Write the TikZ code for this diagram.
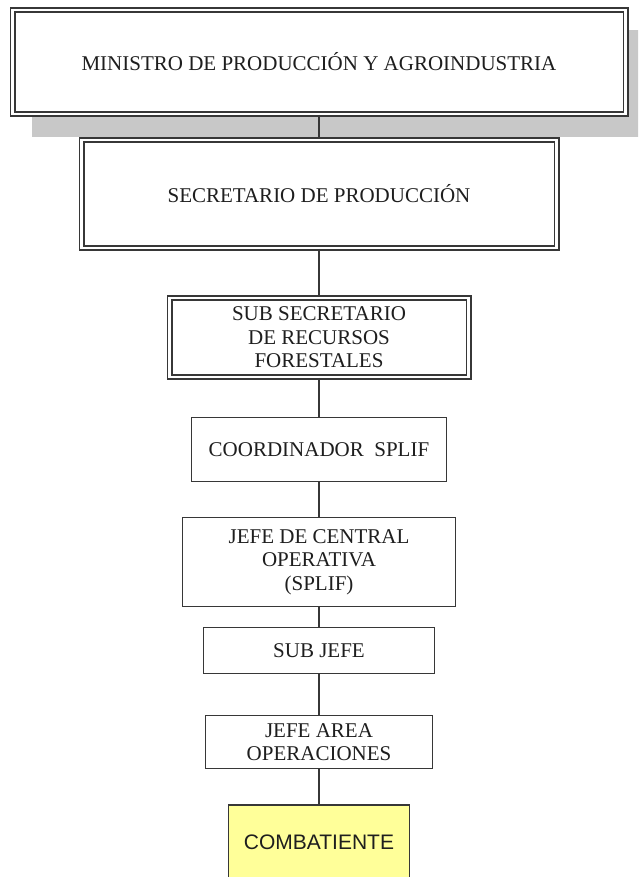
\documentclass[tikz,border=0pt]{standalone}
\usepackage{fontspec}
\setmainfont{Liberation Serif}
\setsansfont{Liberation Sans}

\definecolor{framegray}{RGB}{55,55,55}
\definecolor{shadegray}{RGB}{200,200,200}
\definecolor{inkgray}{RGB}{30,30,30}
\definecolor{paleyellow}{RGB}{255,255,153}

\tikzset{
	rankbox/.style={draw=framegray, line width=1.6pt, fill=white, inner sep=0pt, align=center, text=inkgray, font=\fontsize{21}{23.5}\selectfont},
	doublebox/.style={rankbox, double=white, double distance=2.6pt, line width=1.7pt},
	wire/.style={draw=framegray, line width=1.5pt},
}

\begin{document}
\begin{tikzpicture}[x=1pt, y=-1pt]
	\useasboundingbox (0,0) rectangle (638,877);
	\clip (0,0) rectangle (638,877);
	% Shadow, boxes and wires:
	\fill[shadegray] (32,30) rectangle (640,137);
	\node[doublebox, minimum width=613pt, minimum height=104pt] (ministro) at (319,62) {MINISTRO DE PRODUCCIÓN Y AGROINDUSTRIA};
	\node[doublebox, minimum width=475pt, minimum height=108pt] (secretario) at (319,194) {SECRETARIO DE PRODUCCIÓN};
	\node[doublebox, minimum width=299pt, minimum height=79pt] (subsecretario) at (319,337.5) {SUB SECRETARIO\\DE RECURSOS\\FORESTALES};
	\node[rankbox, minimum width=255pt, minimum height=64pt] (coordinador) at (319,449.5) {COORDINADOR~~SPLIF};
	\node[rankbox, minimum width=273pt, minimum height=89pt] (jefecentral) at (319,562) {JEFE DE CENTRAL\\OPERATIVA\\(SPLIF)};
	\node[rankbox, minimum width=231pt, minimum height=46pt] (subjefe) at (319,650.5) {SUB JEFE};
	\node[rankbox, minimum width=227pt, minimum height=53pt] (jefearea) at (319,742) {JEFE AREA\\OPERACIONES};
	\node[rankbox, fill=paleyellow, font=\sffamily\fontsize{21}{23.5}\selectfont, minimum width=181pt, minimum height=74pt] (combatiente) at (319,842) {COMBATIENTE};
	\foreach \upper/\lower in {ministro/secretario, secretario/subsecretario, subsecretario/coordinador, coordinador/jefecentral, jefecentral/subjefe, subjefe/jefearea, jefearea/combatiente}
		\draw[wire] (\upper.south) -- (\lower.north);
\end{tikzpicture}
\end{document}
